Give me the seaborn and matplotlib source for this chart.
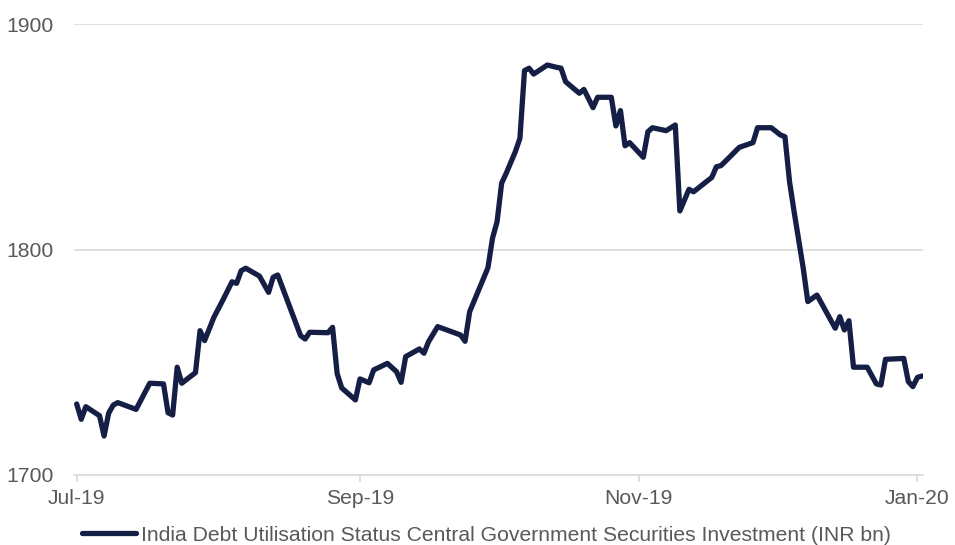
import matplotlib
matplotlib.use("Agg")
import matplotlib.pyplot as plt
import pandas as pd
import seaborn as sns

# Daily observations of the central government securities investment (INR bn)
dates = [
    "2019-07-01", "2019-07-02", "2019-07-03", "2019-07-06", "2019-07-07", "2019-07-08",
    "2019-07-09", "2019-07-10", "2019-07-14", "2019-07-17", "2019-07-20", "2019-07-21",
    "2019-07-22", "2019-07-23", "2019-07-24", "2019-07-27", "2019-07-28", "2019-07-29",
    "2019-07-31", "2019-08-02", "2019-08-04", "2019-08-05", "2019-08-06", "2019-08-07",
    "2019-08-10", "2019-08-12", "2019-08-13", "2019-08-14", "2019-08-19", "2019-08-20",
    "2019-08-21", "2019-08-25", "2019-08-26", "2019-08-27", "2019-08-28", "2019-08-31",
    "2019-09-01", "2019-09-03", "2019-09-04", "2019-09-07", "2019-09-09", "2019-09-10",
    "2019-09-11", "2019-09-14", "2019-09-15", "2019-09-16", "2019-09-18", "2019-09-23",
    "2019-09-24", "2019-09-25", "2019-09-29", "2019-09-30", "2019-10-01", "2019-10-02",
    "2019-10-03", "2019-10-05", "2019-10-06", "2019-10-07", "2019-10-08", "2019-10-09",
    "2019-10-12", "2019-10-14", "2019-10-15", "2019-10-16", "2019-10-19", "2019-10-20",
    "2019-10-22", "2019-10-23", "2019-10-26", "2019-10-27", "2019-10-28", "2019-10-29",
    "2019-10-30", "2019-11-02", "2019-11-03", "2019-11-04", "2019-11-07", "2019-11-09",
    "2019-11-10", "2019-11-12", "2019-11-13", "2019-11-17", "2019-11-18", "2019-11-19",
    "2019-11-21", "2019-11-23", "2019-11-26", "2019-11-27", "2019-11-30", "2019-12-02",
    "2019-12-03", "2019-12-04", "2019-12-05", "2019-12-07", "2019-12-08", "2019-12-10",
    "2019-12-14", "2019-12-15", "2019-12-16", "2019-12-17", "2019-12-18", "2019-12-21",
    "2019-12-23", "2019-12-24", "2019-12-25", "2019-12-29", "2019-12-30", "2019-12-31",
    "2020-01-01", "2020-01-02",
]
investment = [
    1731.5, 1724.7, 1730.3, 1726.3, 1717.3, 1727.4,
    1731.0, 1732.1, 1729.1, 1740.7, 1740.4, 1727.6,
    1726.6, 1747.8, 1740.7, 1745.4, 1764.0, 1759.6,
    1769.8, 1777.6, 1785.7, 1785.0, 1790.6, 1791.7,
    1788.2, 1781.0, 1787.7, 1788.7, 1761.8, 1760.3,
    1763.3, 1763.1, 1765.5, 1745.0, 1738.6, 1733.3,
    1742.6, 1740.9, 1746.6, 1749.5, 1745.8, 1741.1,
    1752.5, 1755.9, 1754.0, 1759.1, 1765.8, 1762.1,
    1759.3, 1772.4, 1791.9, 1805.0, 1812.3, 1829.4,
    1833.8, 1843.4, 1849.3, 1879.3, 1880.4, 1877.8,
    1881.8, 1880.8, 1880.4, 1874.4, 1869.3, 1871.0,
    1862.9, 1867.5, 1867.5, 1854.8, 1861.6, 1846.0,
    1847.4, 1840.9, 1852.2, 1854.0, 1852.7, 1855.2,
    1817.1, 1826.7, 1825.6, 1832.0, 1836.7, 1837.2,
    1841.2, 1845.3, 1847.4, 1854.0, 1854.0, 1850.8,
    1850.0, 1830.1, 1816.8, 1791.7, 1776.9, 1779.8,
    1765.1, 1770.2, 1764.3, 1768.4, 1747.8, 1747.8,
    1740.4, 1739.9, 1751.3, 1751.7, 1741.4, 1739.2,
    1743.3, 1743.9,
]
tick_dates = ["2019-07-01", "2019-09-01", "2019-11-01", "2020-01-01"]
tick_labels = ["Jul-19", "Sep-19", "Nov-19", "Jan-20"]
y_ticks = [1700, 1800, 1900]
series_name = "India Debt Utilisation Status Central Government Securities Investment (INR bn)"

sns.set_style("white")
plt.rcParams["font.family"] = ["Liberation Sans", "DejaVu Sans"]

df = pd.DataFrame({"date": pd.to_datetime(dates), "value": investment})

line_color = "#151f45"
grid_color = "#d9d9d9"
text_color = "#595959"

fig = plt.figure(figsize=(9.55, 5.45), dpi=100)
ax = fig.add_axes([74 / 955, 1 - 475 / 545, (923 - 74) / 955, (475 - 24) / 545])

sns.lineplot(data=df, x="date", y="value", ax=ax, color=line_color,
             linewidth=3.8, label=series_name)

ax.set_ylim(1700, 1900)
ax.set_xlim(pd.Timestamp("2019-07-01") - pd.Timedelta(hours=14),
            pd.Timestamp("2020-01-02") + pd.Timedelta(hours=5))
ax.set_yticks(y_ticks)
ax.set_xticks(pd.to_datetime(tick_dates))
ax.set_xticklabels(tick_labels)
ax.set_xlabel("")
ax.set_ylabel("")

# Light horizontal gridlines above the baseline
for y in y_ticks[1:]:
    ax.axhline(y, color=grid_color, linewidth=1.2, zorder=0)

for side in ["top", "right", "left"]:
    ax.spines[side].set_visible(False)
ax.spines["bottom"].set_color(grid_color)
ax.spines["bottom"].set_linewidth(1.2)

ax.tick_params(axis="x", which="both", bottom=True, length=5, width=1.2,
               color=grid_color, labelcolor=text_color, labelsize=15.2, pad=5)
ax.tick_params(axis="y", left=False, labelcolor=text_color, labelsize=15.2, pad=11)

leg = ax.legend(loc="center", bbox_to_anchor=(0.509, 0.018), bbox_transform=fig.transFigure,
                frameon=False, fontsize=15.2, handlelength=2.6, handletextpad=0.2,
                borderpad=0, borderaxespad=0)
for t in leg.get_texts():
    t.set_color(text_color)
for h in leg.get_lines():
    h.set_linewidth(3.8)

fig.savefig("out.png", dpi=100)
